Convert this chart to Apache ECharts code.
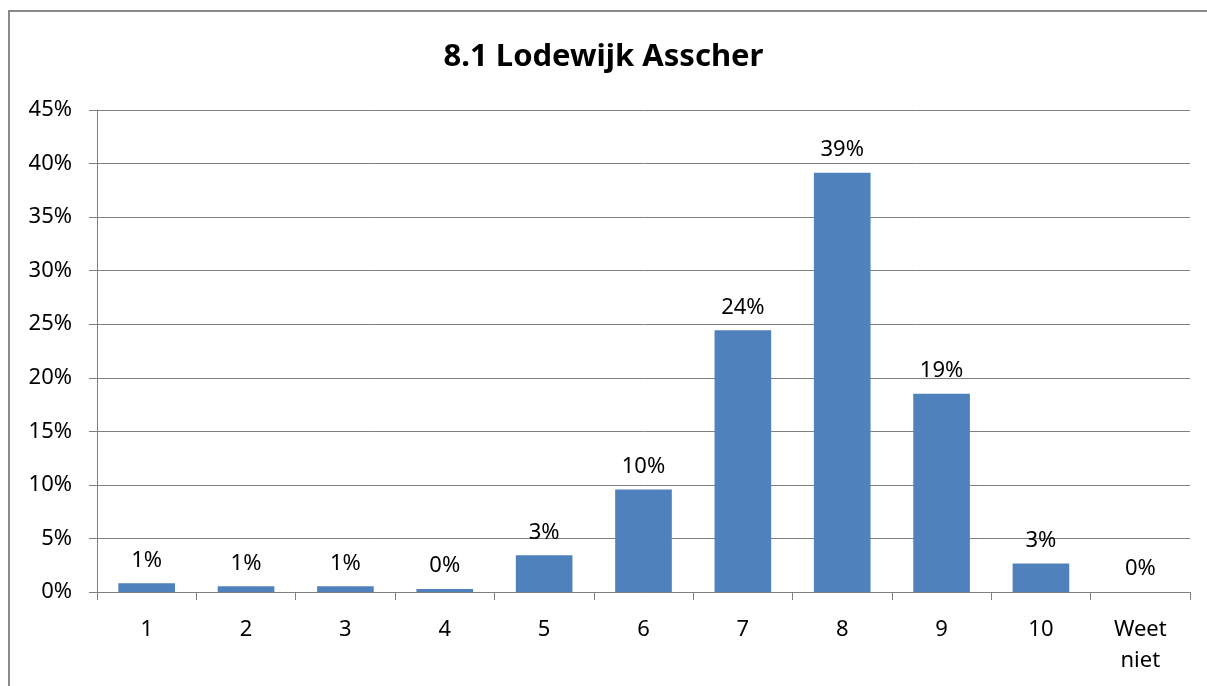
<!DOCTYPE html>
<html>
<head>
<meta charset="utf-8">
<script src="https://cdn.jsdelivr.net/npm/echarts@6/dist/echarts.min.js"></script>
<style>
  html, body { margin:0; padding:0; background:#fff; }
  #chart { width:1207px; height:686px; }
</style>
</head>
<body>
<div id="chart"></div>
<script>
// categories (scores) and share of respondents, in percent
const categories = ['1', '2', '3', '4', '5', '6', '7', '8', '9', '10', 'Weet\nniet']
const shares     = [0.81, 0.53, 0.53, 0.28, 3.43, 9.56, 24.43, 39.15, 18.52, 2.65, 0]
const yTicks     = { min: 0, max: 45, step: 5 }

const font = '"Noto Sans", "Open Sans", sans-serif'

const chart = echarts.init(document.getElementById('chart'))
chart.setOption({
  animation: false,
  backgroundColor: '#fff',
  title: {
    text: '8.1 Lodewijk Asscher',
    left: 'center',
    top: 37,
    textStyle: { fontFamily: font, fontSize: 31, fontWeight: 'bold', color: '#000' }
  },
  graphic: [{
    type: 'rect',
    shape: { x: 9, y: 11, width: 1400, height: 900 },
    style: { fill: 'none', stroke: '#8a8a8a', lineWidth: 2 },
    silent: true
  }],
  grid: { left: 97, right: 17, top: 110, bottom: 94, containLabel: false },
  xAxis: {
    type: 'category',
    data: categories,
    axisLine: { lineStyle: { color: '#808080', width: 1 } },
    axisTick: { show: true, length: 8, alignWithLabel: false, lineStyle: { color: '#808080' } },
    axisLabel: { fontFamily: font, fontSize: 22, color: '#000', margin: 22, lineHeight: 31, interval: 0 }
  },
  yAxis: {
    type: 'value',
    min: yTicks.min,
    max: yTicks.max,
    interval: yTicks.step,
    axisLine: { show: true, lineStyle: { color: '#808080', width: 1 } },
    axisTick: { show: true, length: 8, lineStyle: { color: '#808080' } },
    splitLine: { lineStyle: { color: '#808080', width: 1 } },
    axisLabel: { fontFamily: font, fontSize: 22, color: '#000', margin: 25, formatter: v => v + '%' }
  },
  series: [{
    type: 'bar',
    data: shares,
    barWidth: '57%',
    itemStyle: { color: '#4f81bd' },
    label: {
      show: true,
      position: 'top',
      distance: 12,
      fontFamily: font,
      fontSize: 22,
      color: '#000',
      formatter: p => Math.round(p.value) + '%'
    }
  }]
})
</script>
</body>
</html>
